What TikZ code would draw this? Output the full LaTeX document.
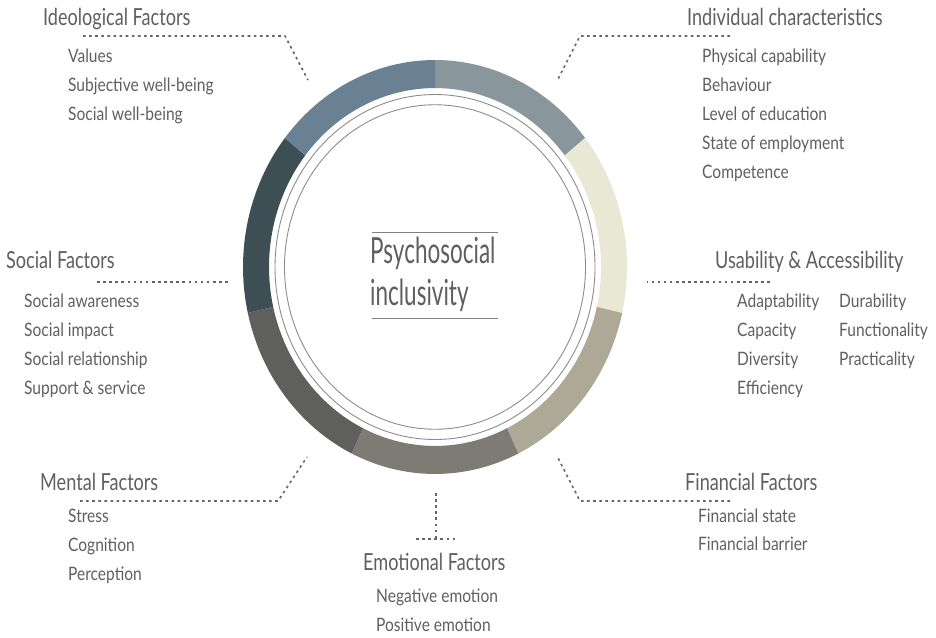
\documentclass[tikz,border=0pt]{standalone}
\usepackage{fontspec}
\setmainfont{Lato}[FakeStretch=0.84]
\newfontfamily\headfont{Lato}[FakeStretch=0.77]
\newfontfamily\corefont{Lato}[FakeStretch=0.625]
\usetikzlibrary{calc}

\definecolor{segIdeo}{HTML}{6A8193}
\definecolor{segIndi}{HTML}{89969B}
\definecolor{segUsab}{HTML}{E9E8D5}
\definecolor{segFina}{HTML}{AEA896}
\definecolor{segEmot}{HTML}{7D7B73}
\definecolor{segMent}{HTML}{5F5F5D}
\definecolor{segSoci}{HTML}{3E4E55}
\definecolor{txtgray}{HTML}{5F5F5F}
\definecolor{dotgray}{HTML}{666666}

\begin{document}
\begin{tikzpicture}[x=1pt,y=-1pt,
  factor/.style={anchor=base west,inner sep=0pt,text=txtgray,font=\headfont\fontsize{23.5}{23.5}\selectfont},
  item/.style={anchor=base west,inner sep=0pt,text=txtgray,font=\fontsize{18.5}{18.5}\selectfont},
  leader/.style={draw=dotgray,line width=1.6pt,dash pattern=on 2.6pt off 3.5pt},
  ringline/.style={draw=gray!90,line width=0.9pt}]
\useasboundingbox (0,0) rectangle (936,637);

% Ring of seven factors
\begin{scope}[shift={(435,267)},yscale=1.078]
\foreach \c [count=\k from 0] in {segIndi,segUsab,segFina,segEmot,segMent,segSoci,segIdeo}{
  \pgfmathsetmacro\a{-90+\k*360/7}
  \pgfmathsetmacro\b{-90+(\k+1)*360/7}
  \fill[\c] (\a:192) arc[start angle=\a,end angle=\b,radius=192]
    -- (\b:166) arc[start angle=\b,end angle=\a,radius=166] -- cycle;
}
\draw[ringline] (0,0) circle[radius=160];
\draw[ringline] (0,0) circle[radius=150.5];
\end{scope}

% Centre
\node[anchor=base west,inner sep=0pt,text=txtgray,font=\corefont\fontsize{36}{36}\selectfont] (core1) at (370,263) {Psychosocial};
\node[anchor=base west,inner sep=0pt,text=txtgray,font=\corefont\fontsize{36}{36}\selectfont] (core2) at (370,305) {inclusivity};
\coordinate (rule1a) at (372,232); \coordinate (rule1b) at (498,232);
\coordinate (rule2a) at (372,318); \coordinate (rule2b) at (498,318);
\draw[gray,line width=1pt] (rule1a) -- (rule1b);
\draw[gray,line width=1pt] (rule2a) -- (rule2b);

% Ideological Factors
\node[factor] (ideo) at (43,25) {Ideological Factors};
\foreach \t [count=\i from 0] in {Values,Subjective well-being,Social well-being}
  \node[item] (ideo-\i) at (68,{62+29*\i}) {\t};
\coordinate (ideoA) at (83,36); \coordinate (ideoB) at (285,36); \coordinate (ideoC) at (308,80);
\draw[leader] (ideoA) -- (ideoB) -- (ideoC);

% Individual characteristics
\node[factor] (indi) at (687,25) {Individual characteristics};
\foreach \t [count=\i from 0] in {Physical capability,Behaviour,Level of education,State of employment,Competence}
  \node[item] (indi-\i) at (702,{62+29*\i}) {\t};
\coordinate (indiA) at (730,36); \coordinate (indiB) at (580,36); \coordinate (indiC) at (558,79);
\draw[leader] (indiA) -- (indiB) -- (indiC);

% Social Factors
\node[factor] (soci) at (6,268) {Social Factors};
\foreach \t [count=\i from 0] in {Social awareness,Social impact,Social relationship,Support \& service}
  \node[item] (soci-\i) at (24,{307+29.3*\i}) {\t};
\coordinate (sociA) at (97,282); \coordinate (sociB) at (228,282);
\draw[leader] (sociA) -- (sociB);

% Usability & Accessibility
\node[factor] (usab) at (715,268) {Usability \& Accessibility};
\foreach \t [count=\i from 0] in {Adaptability,Capacity,Diversity,Efficiency}
  \node[item] (usab-a\i) at (737,{307+29.3*\i}) {\t};
\foreach \t [count=\i from 0] in {Durability,Functionality,Practicality}
  \node[item] (usab-b\i) at (839,{307+29.3*\i}) {\t};
\coordinate (usabA) at (770,282); \coordinate (usabB) at (647,282);
\draw[leader] (usabA) -- (usabB);

% Mental Factors
\node[factor] (ment) at (40,490) {Mental Factors};
\foreach \t [count=\i from 0] in {Stress,Cognition,Perception}
  \node[item] (ment-\i) at (68,{522+29*\i}) {\t};
\coordinate (mentA) at (80,501); \coordinate (mentB) at (278,501); \coordinate (mentC) at (307,457);
\draw[leader] (mentA) -- (mentB) -- (mentC);

% Emotional Factors
\node[factor] (emot) at (363,570) {Emotional Factors};
\foreach \t [count=\i from 0] in {Negative emotion,Positive emotion}
  \node[item] (emot-\i) at (376,{602+29.5*\i}) {\t};
\coordinate (emotA) at (436,493); \coordinate (emotB) at (436,538);
\coordinate (emotC) at (416,539); \coordinate (emotD) at (455,539);
\draw[leader] (emotA) -- (emotB);
\draw[leader] (emotC) -- (emotD);

% Financial Factors
\node[factor] (fina) at (685,490) {Financial Factors};
\foreach \t [count=\i from 0] in {Financial state,Financial barrier}
  \node[item] (fina-\i) at (698,{522+28.5*\i}) {\t};
\coordinate (finaA) at (730,501); \coordinate (finaB) at (580,501); \coordinate (finaC) at (558,458);
\draw[leader] (finaA) -- (finaB) -- (finaC);

\end{tikzpicture}
\end{document}
